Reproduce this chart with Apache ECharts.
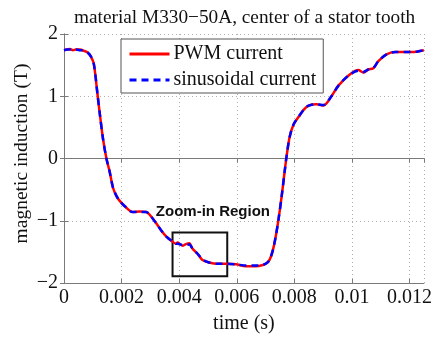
<!DOCTYPE html>
<html>
<head>
<meta charset="utf-8">
<script src="https://cdn.jsdelivr.net/npm/echarts@6/dist/echarts.min.js"></script>
<style>
  html, body { margin: 0; padding: 0; background: #fff; }
  #chart { width: 435px; height: 339px; }
</style>
</head>
<body>
<div id="chart"></div>
<script>
// time samples (s)
const timeS = [0, 0.000104, 0.000207, 0.000311, 0.000414, 0.000552, 0.000691, 0.000829, 0.000932, 0.001036,
  0.001164, 0.001243, 0.001357, 0.001474, 0.00159, 0.001702, 0.00182, 0.001934, 0.002141, 0.002383,
  0.002624, 0.002856, 0.00297, 0.003201, 0.003384, 0.003546, 0.003729, 0.003891, 0.003947, 0.00404,
  0.00412, 0.004213, 0.004351, 0.004465, 0.004637, 0.00481, 0.005041, 0.005318, 0.005628, 0.005974,
  0.006319, 0.006664, 0.006906, 0.007044, 0.007148, 0.007251, 0.007355, 0.007459, 0.007562, 0.007666,
  0.007735, 0.007839, 0.007977, 0.00815, 0.008322, 0.008495, 0.008771, 0.009013, 0.009289, 0.009531,
  0.009876, 0.010222, 0.010394, 0.010567, 0.01074, 0.010912, 0.011188, 0.011499, 0.012051, 0.012293, 0.0125];

// magnetic induction (T) with PWM supply
const pwmB = [1.74, 1.75, 1.76, 1.74, 1.75, 1.75, 1.73, 1.70, 1.64, 1.52,
  1.03, 0.72, 0.31, 0.0, -0.22, -0.47, -0.60, -0.68, -0.78, -0.86,
  -0.85, -0.86, -0.90, -1.04, -1.16, -1.25, -1.32, -1.37, -1.35, -1.38,
  -1.40, -1.38, -1.36, -1.45, -1.53, -1.63, -1.67, -1.69, -1.69, -1.70,
  -1.73, -1.73, -1.71, -1.68, -1.62, -1.48, -1.25, -0.95, -0.60, -0.20,
  0.05, 0.35, 0.55, 0.67, 0.78, 0.85, 0.87, 0.85, 1.00, 1.17,
  1.33, 1.42, 1.38, 1.43, 1.45, 1.56, 1.67, 1.71, 1.71, 1.72, 1.74];

// magnetic induction (T) with sinusoidal supply
const sinB = [1.74, 1.75, 1.75, 1.74, 1.75, 1.74, 1.73, 1.70, 1.64, 1.52,
  1.03, 0.72, 0.31, 0.0, -0.22, -0.47, -0.60, -0.68, -0.78, -0.86,
  -0.86, -0.86, -0.90, -1.04, -1.16, -1.25, -1.32, -1.37, -1.37, -1.38,
  -1.39, -1.39, -1.38, -1.45, -1.53, -1.62, -1.67, -1.69, -1.69, -1.70,
  -1.72, -1.72, -1.71, -1.68, -1.62, -1.48, -1.25, -0.95, -0.60, -0.20,
  0.05, 0.35, 0.55, 0.67, 0.78, 0.85, 0.87, 0.86, 1.00, 1.17,
  1.33, 1.41, 1.39, 1.43, 1.45, 1.56, 1.67, 1.71, 1.71, 1.72, 1.74];

// highlighted window: [t0, t1] x [B0, B1]
const zoomBoxT = [0.00377, 0.00567];
const zoomBoxB = [-1.19, -1.89];

const pair = (ys) => timeS.map((t, i) => [t, ys[i]]);
const serif = '"Liberation Serif", "Times New Roman", serif';
const minus = (v) => String(v).replace('-', '\u2212');

const frameColor = '#7a7a7a';
const gridLine = { show: true, lineStyle: { color: '#b0b0b0', type: [1, 3], width: 1 } };

const chart = echarts.init(document.getElementById('chart'), null, { renderer: 'canvas' });
chart.setOption({
  animation: false,
  backgroundColor: '#fff',
  title: {
    text: 'material M330\u221250A, center of a stator tooth',
    left: 69, top: 3,
    textStyle: { fontFamily: serif, fontSize: 19.3, fontWeight: 'normal', color: '#111' }
  },
  grid: { left: 64, right: 9, top: 34, bottom: 47, containLabel: false },
  legend: {
    left: 121, top: 39, orient: 'vertical',
    backgroundColor: '#fff', borderColor: '#555', borderWidth: 1,
    padding: [5, 7, 3, 7], itemGap: 6, itemWidth: 40, itemHeight: 14,
    itemStyle: { opacity: 0 },
    lineStyle: { width: 3 },
    textStyle: { fontFamily: serif, fontSize: 20, color: '#111', padding: [0, 0, 0, -1] },
    data: ['PWM current', 'sinusoidal current']
  },
  xAxis: [{
    type: 'value', min: 0, max: 0.0125, interval: 0.002,
    name: 'time (s)', nameLocation: 'middle', nameGap: 31, nameMoveOverlap: false,
    nameTextStyle: { fontFamily: serif, fontSize: 20, color: '#111' },
    axisLine: { show: true, onZero: false, lineStyle: { color: frameColor } },
    axisTick: { show: true, inside: true, length: 4, lineStyle: { color: frameColor } },
    axisLabel: { fontFamily: serif, fontSize: 20, color: '#111', margin: 5, showMaxLabel: false,
      formatter: (v) => String(v) },
    splitLine: gridLine
  }, {
    type: 'value', position: 'top', min: 0, max: 0.0125, interval: 0.002,
    axisLine: { show: true, lineStyle: { color: frameColor } },
    axisTick: { show: true, inside: true, length: 4, lineStyle: { color: frameColor } },
    axisLabel: { show: false }, splitLine: { show: false }
  }],
  yAxis: [{
    type: 'value', min: -2, max: 2, interval: 1,
    name: 'magnetic induction (T)', nameLocation: 'middle', nameGap: 32, nameMoveOverlap: false,
    nameTextStyle: { fontFamily: serif, fontSize: 19.5, color: '#111', padding: [0, 0, 0, 10] },
    axisLine: { show: true, onZero: false, lineStyle: { color: frameColor } },
    axisTick: { show: true, inside: true, length: 4, lineStyle: { color: frameColor } },
    axisLabel: { fontFamily: serif, fontSize: 20, color: '#111', margin: 6, formatter: minus },
    splitLine: gridLine
  }, {
    type: 'value', position: 'right', min: -2, max: 2, interval: 1,
    axisLine: { show: true, lineStyle: { color: frameColor } },
    axisTick: { show: true, inside: true, length: 4, lineStyle: { color: frameColor } },
    axisLabel: { show: false }, splitLine: { show: false }
  }],
  series: [{
    name: 'PWM current', type: 'line', data: pair(pwmB), showSymbol: false, symbol: 'none',
    smooth: 0.3, color: '#ff0000',
    lineStyle: { color: '#ff0000', width: 2.5 },
    markArea: {
      silent: true,
      itemStyle: { color: 'rgba(0,0,0,0)', borderColor: '#111', borderWidth: 2 },
      label: { show: true, position: 'top', offset: [13, -7],
        fontFamily: '"Liberation Sans", Arial, sans-serif', fontWeight: 'bold', fontSize: 15, color: '#111' },
      data: [[
        { name: 'Zoom-in Region', xAxis: zoomBoxT[0], yAxis: zoomBoxB[0] },
        { xAxis: zoomBoxT[1], yAxis: zoomBoxB[1] }
      ]]
    }
  }, {
    name: 'sinusoidal current', type: 'line', data: pair(sinB), showSymbol: false, symbol: 'none',
    smooth: 0.3, color: '#0000ff',
    lineStyle: { color: '#0000ff', width: 2.5, type: [7, 5] }
  }]
});
</script>
</body>
</html>
